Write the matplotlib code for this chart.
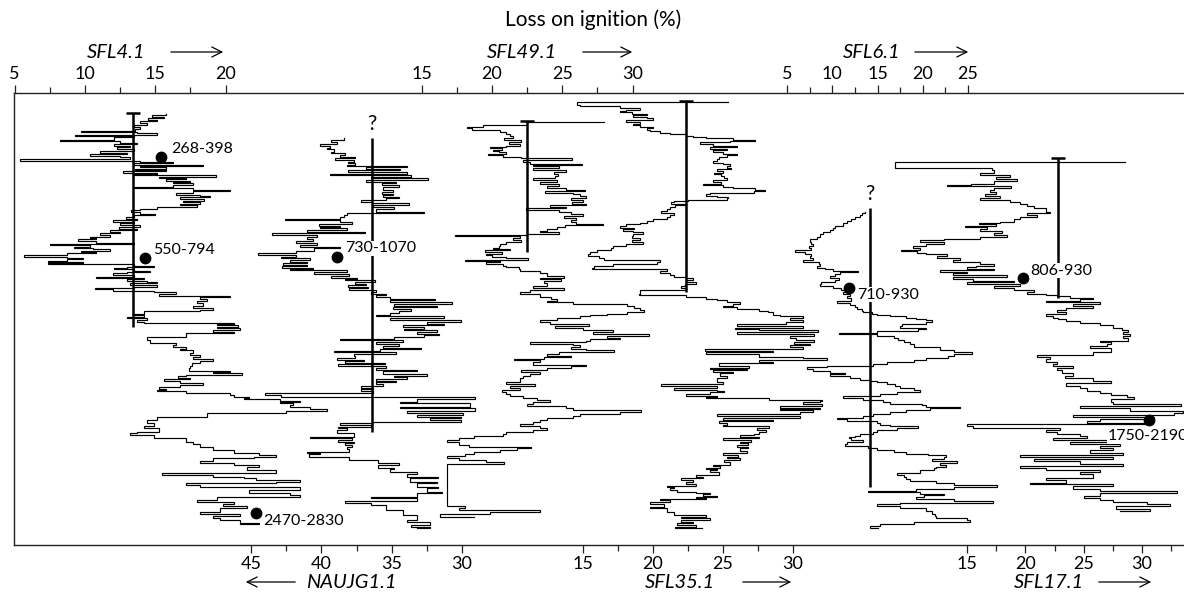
import matplotlib
matplotlib.use("Agg")
import matplotlib.pyplot as plt
from matplotlib.patches import FancyArrowPatch

plt.rcParams["font.family"] = ["Lato", "DejaVu Sans"]

# ---------------------------------------------------------------- data
# Loss-on-ignition profiles: depth (cm below top of section) and LOI (%)
SFL4_depth = [
    24.0, 25.0, 26.7, 28.0, 30.0, 31.3, 33.3, 34.7, 37.3, 39.3,
    40.7, 42.0, 43.3, 44.7, 46.0, 47.3, 50.0, 51.3, 52.7, 54.0,
    56.0, 57.3, 59.3, 60.7, 62.7, 64.0, 66.0, 67.3, 69.3, 70.7,
    72.0, 73.3, 74.7, 76.0, 77.3, 78.7, 80.0, 81.3, 82.7, 84.0,
    85.0, 86.7, 88.0, 89.3, 90.7, 92.0, 93.3, 94.7, 96.7, 98.0,
    100.0, 101.3, 103.3, 104.7, 106.0, 107.3, 108.7, 110.7, 112.0, 114.0,
    115.3, 117.3, 118.7, 120.0, 122.0, 124.0, 125.3, 126.7, 128.7, 130.0,
    132.0, 133.3, 134.7, 136.7, 138.7, 140.0, 142.0, 143.3, 145.3, 146.7,
    148.0, 149.3, 151.3, 152.7, 154.0, 155.3, 156.7, 158.0, 159.3, 160.7,
    161.7, 163.3, 165.0, 166.7, 168.3, 169.3, 170.7, 172.0, 173.3, 174.3,
    175.7, 177.0, 178.3, 179.3, 180.7, 182.0, 183.3, 184.7, 186.7, 188.0,
    189.3, 190.7, 192.0, 193.3, 195.0, 196.7, 198.0, 199.3, 200.7, 202.0,
    204.0, 206.0, 207.3, 209.3, 211.3, 213.3, 216.0, 218.3, 220.0, 221.3,
    224.0, 225.3, 226.7, 228.0, 230.0, 231.7, 232.7, 234.0, 235.3, 236.7,
    238.3, 240.0, 241.7, 243.3, 246.7, 250.0, 252.7, 254.7, 256.7, 258.7,
    260.0, 262.7, 265.0, 267.3, 269.3, 271.3, 273.3, 276.0, 278.3, 280.7,
    282.0, 283.3, 284.7, 286.0, 288.0, 289.3, 291.3, 293.3, 295.3, 297.3,
    298.7, 300.0, 301.3, 302.7, 304.7, 306.7, 308.0, 309.3, 310.7, 312.0,
    313.3, 315.3, 317.3, 319.3, 320.7, 322.7, 326.7, 330.0, 333.3, 336.0,
    338.3, 341.7, 343.3, 345.0, 348.3, 351.7, 354.0, 356.7, 360.0, 363.3,
    365.0, 366.7, 368.3, 370.7, 373.3, 375.0, 376.7, 380.0, 382.7, 384.7,
    386.7, 388.3, 390.0, 391.7, 393.3, 395.3, 397.3, 400.0, 402.7, 405.0,
    406.7, 410.0, 411.7, 414.0, 416.0, 418.3, 421.7, 424.0, 426.0, 428.3,
    430.0, 432.7, 434.0,
]
SFL4_loi = [
    15.8, 14.8, 15.6, 14.5, 15.1, 13.9, 14.4, 13.5, 13.9, 13.6,
    9.7, 13.7, 15.1, 9.3, 13.5, 12.1, 8.2, 12.5, 13.7, 12.1,
    13.2, 12.3, 13.5, 11.1, 13.0, 10.4, 12.5, 13.2, 5.4, 13.9,
    16.3, 13.5, 18.4, 13.9, 15.8, 13.6, 15.8, 12.7, 15.1, 13.5,
    19.3, 15.3, 17.2, 15.8, 17.5, 16.3, 17.7, 16.3, 13.5, 17.7,
    20.3, 17.7, 16.5, 18.2, 18.9, 16.8, 18.5, 17.0, 18.2, 16.8,
    18.0, 15.1, 13.9, 13.3, 13.9, 15.0, 13.5, 12.9, 13.7, 12.0,
    13.5, 12.5, 13.9, 12.4, 13.7, 11.8, 12.5, 11.1, 11.8, 10.4,
    10.8, 9.5, 10.8, 13.5, 7.5, 10.4, 9.2, 10.6, 11.8, 9.7,
    10.8, 8.7, 5.7, 8.7, 9.9, 8.7, 7.4, 9.9, 7.4, 13.5,
    14.9, 13.0, 12.1, 13.5, 14.6, 13.0, 12.0, 13.5, 10.8, 14.2,
    13.0, 14.4, 15.1, 13.2, 15.1, 13.5, 10.7, 12.0, 14.9, 16.5,
    15.3, 20.3, 18.2, 18.7, 18.0, 18.4, 17.7, 19.1, 18.2, 14.2,
    13.5, 14.2, 13.0, 14.4, 13.7, 14.2, 20.6, 19.4, 20.9, 19.4,
    21.0, 19.1, 20.6, 17.2, 14.4, 14.6, 16.5, 16.3, 17.2, 16.8,
    17.7, 17.5, 18.2, 17.7, 19.1, 18.2, 17.6, 17.5, 17.4, 20.3,
    19.1, 21.2, 17.2, 16.6, 17.5, 15.6, 16.8, 18.4, 16.8, 15.3,
    15.8, 15.1, 17.2, 20.3, 20.6, 21.7, 21.3, 23.9, 25.3, 23.9,
    24.8, 24.6, 26.0, 27.2, 24.3, 18.7, 15.1, 14.4, 14.9, 14.2,
    15.3, 13.7, 13.2, 14.9, 17.2, 17.7, 18.2, 19.1, 20.6, 22.4,
    23.6, 22.0, 19.1, 18.2, 20.6, 22.4, 21.5, 23.6, 15.5, 19.1,
    21.3, 22.2, 25.3, 23.6, 17.2, 18.2, 25.3, 21.7, 24.6, 25.3,
    19.4, 18.0, 20.6, 19.8, 21.5, 19.6, 18.2, 21.0, 19.1, 19.6,
    21.0, 22.4, 21.0,
]

NAUJG_depth = [
    48.3, 49.7, 51.7, 53.7, 55.7, 57.7, 59.0, 61.7, 63.3, 65.0,
    67.0, 68.3, 70.3, 71.7, 73.3, 75.0, 75.7, 77.0, 79.0, 80.3,
    82.3, 83.7, 85.0, 86.7, 88.3, 90.0, 91.7, 93.3, 95.0, 97.0,
    100.0, 101.7, 103.7, 105.0, 106.7, 108.3, 110.0, 111.7, 113.3, 115.0,
    116.7, 119.0, 121.7, 123.3, 125.0, 127.0, 129.0, 130.3, 132.3, 133.7,
    135.7, 137.0, 138.3, 139.7, 141.7, 143.0, 145.0, 146.7, 149.0, 151.0,
    153.3, 155.0, 156.7, 158.3, 161.0, 163.3, 165.0, 166.7, 168.3, 169.7,
    171.7, 173.0, 175.0, 176.3, 177.7, 179.0, 180.0, 181.7, 184.3, 185.7,
    187.7, 189.0, 190.0, 191.7, 193.7, 195.0, 197.0, 198.3, 200.3, 201.7,
    203.7, 205.0, 207.0, 209.0, 210.3, 212.3, 213.7, 215.7, 217.0, 219.0,
    221.0, 223.0, 225.0, 226.3, 227.7, 230.3, 231.7, 233.7, 235.0, 237.0,
    239.0, 240.3, 241.7, 243.7, 245.0, 247.0, 249.0, 250.3, 252.3, 253.7,
    255.7, 257.7, 259.0, 261.0, 262.3, 264.3, 266.3, 267.7, 269.7, 271.0,
    273.0, 274.3, 276.3, 277.7, 279.7, 281.0, 283.7, 285.7, 287.0, 289.0,
    291.0, 292.3, 294.3, 295.7, 297.7, 299.0, 301.0, 302.7, 305.0, 307.0,
    309.0, 311.7, 313.3, 316.7, 318.3, 321.0, 323.3, 325.0, 326.7, 328.3,
    330.0, 331.7, 333.3, 335.0, 336.7, 338.3, 340.0, 343.3, 346.7, 348.3,
    350.0, 351.7, 353.3, 355.0, 356.7, 359.0, 361.7, 363.3, 364.3, 366.7,
    370.0, 373.3, 375.0, 377.7, 379.0, 381.7, 384.3, 386.7, 388.3, 391.7,
    393.3, 396.7, 398.3, 401.7, 403.3, 406.7, 408.3, 411.0, 413.3, 415.0,
    420.0, 425.0, 430.0, 432.3, 435.0, 437.0, 438.3,
]
NAUJG_loi = [
    38.4, 39.3, 38.9, 40.1, 39.4, 39.6, 39.1, 39.3, 38.3, 38.7,
    37.6, 39.0, 37.7, 38.1, 37.6, 38.2, 33.9, 36.8, 34.4, 38.1,
    33.9, 39.4, 33.6, 36.5, 32.4, 36.8, 34.7, 35.7, 34.5, 35.6,
    34.9, 35.7, 34.9, 35.6, 34.5, 35.4, 37.2, 36.4, 33.8, 36.3,
    34.8, 36.1, 32.7, 38.2, 38.4, 38.7, 42.6, 38.7, 37.8, 40.2,
    38.7, 40.1, 38.2, 41.0, 36.9, 43.5, 40.3, 41.0, 40.6, 41.8,
    40.3, 41.5, 38.7, 40.5, 41.8, 44.5, 41.8, 42.9, 40.8, 42.2,
    41.0, 42.7, 41.0, 42.8, 40.6, 42.2, 38.2, 40.5, 38.0, 39.3,
    37.5, 38.3, 36.2, 37.6, 36.8, 38.1, 36.7, 38.0, 36.1, 36.5,
    35.4, 36.1, 35.1, 31.9, 35.1, 30.7, 34.8, 31.8, 34.9, 33.6,
    34.5, 35.1, 36.1, 31.3, 35.1, 30.1, 32.5, 31.3, 34.2, 32.7,
    34.1, 31.8, 33.2, 31.6, 32.7, 34.8, 38.7, 34.2, 36.1, 34.5,
    35.6, 32.9, 35.8, 39.1, 34.7, 37.7, 37.6, 38.9, 37.0, 38.3,
    35.5, 38.8, 35.4, 36.1, 33.2, 35.6, 32.5, 34.8, 33.9, 36.1,
    34.7, 36.1, 35.6, 37.2, 36.3, 37.2, 36.3, 44.0, 42.9, 29.1,
    33.2, 34.4, 29.4, 34.4, 29.1, 33.9, 29.9, 33.2, 30.1, 32.3,
    30.1, 36.3, 38.7, 36.5, 38.8, 38.2, 38.9, 37.7, 40.8, 37.8,
    38.8, 37.7, 38.3, 37.8, 38.2, 38.0, 41.0, 40.1, 40.9, 38.0,
    36.0, 34.5, 36.0, 34.8, 35.1, 33.2, 33.9, 31.7, 33.7, 31.8,
    33.2, 31.7, 32.5, 31.4, 33.2, 36.5, 33.2, 38.3, 36.5, 35.4,
    34.2, 33.2, 33.9, 32.3, 33.6, 32.3, 33.2,
]

SFL49_depth = [
    32.3, 32.3, 35.0, 37.0, 38.3, 39.7, 42.3, 44.3, 46.3, 47.7,
    49.7, 51.7, 53.7, 55.7, 57.0, 58.3, 59.7, 61.0, 62.3, 63.7,
    65.0, 67.0, 68.3, 70.3, 71.7, 73.7, 75.0, 76.3, 78.3, 80.3,
    82.3, 84.3, 86.3, 88.3, 90.3, 92.3, 94.3, 95.7, 97.7, 99.7,
    101.0, 103.0, 104.3, 106.3, 107.7, 109.7, 111.7, 113.7, 115.0, 117.0,
    118.3, 120.0, 121.7, 123.7, 125.7, 127.7, 130.0, 131.7, 133.7, 135.0,
    137.0, 139.0, 141.0, 142.3, 143.7, 145.0, 146.3, 148.3, 150.3, 151.7,
    153.7, 155.7, 157.7, 159.0, 160.3, 161.7, 163.7, 165.0, 167.0, 168.3,
    169.7, 171.0, 172.3, 173.7, 175.7, 177.0, 179.0, 181.0, 183.3, 185.7,
    187.7, 189.3, 191.0, 193.3, 195.7, 197.7, 199.7, 201.7, 204.3, 207.0,
    209.0, 211.0, 212.3, 213.7, 215.7, 217.7, 219.7, 221.7, 223.7, 225.0,
    226.3, 228.3, 230.3, 231.7, 233.7, 235.7, 237.7, 239.7, 242.3, 243.7,
    245.7, 247.7, 249.0, 251.0, 252.3, 253.7, 255.0, 257.0, 259.0, 260.3,
    262.3, 263.7, 265.7, 267.0, 269.0, 270.3, 272.3, 275.0, 276.3, 278.3,
    280.3, 282.3, 283.7, 285.7, 287.7, 289.7, 291.7, 293.7, 295.7, 297.7,
    299.7, 301.7, 303.7, 305.7, 307.7, 309.7, 311.7, 313.7, 315.7, 317.7,
    319.7, 321.7, 323.7, 325.7, 327.7, 330.0, 332.3, 334.3, 336.3, 338.3,
    340.3, 342.3, 344.3, 346.3, 348.3, 350.3, 352.3, 355.0, 357.0, 358.3,
    360.3, 362.3, 364.3, 366.3, 368.3, 370.3, 372.3, 374.0, 413.3, 415.7,
    417.7, 420.0, 422.3, 424.3, 426.7,
]
SFL49_loi = [
    28.0, 22.5, 19.4, 18.2, 18.6, 20.6, 21.0, 21.3, 21.5, 20.9,
    22.1, 21.2, 22.0, 21.0, 19.9, 20.7, 20.1, 20.5, 21.0, 19.7,
    20.8, 22.1, 25.7, 22.2, 22.7, 26.4, 22.9, 24.8, 22.9, 25.3,
    24.4, 24.7, 24.5, 22.9, 24.6, 23.4, 24.8, 23.9, 25.3, 26.6,
    23.8, 25.8, 26.3, 26.7, 25.6, 26.5, 25.7, 26.7, 24.1, 25.3,
    22.4, 24.8, 25.6, 26.5, 25.1, 26.0, 25.6, 26.0, 27.9, 25.2,
    24.6, 23.9, 23.4, 24.8, 22.5, 17.4, 22.0, 21.5, 22.1, 21.0,
    20.6, 20.5, 20.1, 21.3, 19.5, 20.7, 19.6, 20.0, 21.0, 22.6,
    18.1, 20.6, 19.6, 20.8, 21.0, 21.9, 22.0, 23.4, 23.9, 25.1,
    23.4, 24.9, 23.7, 23.9, 22.9, 25.1, 22.7, 22.0, 23.4, 24.2,
    24.6, 23.9, 25.8, 29.6, 30.1, 30.5, 30.8, 29.6, 28.2, 27.0,
    26.3, 24.6, 23.4, 24.1, 26.9, 24.5, 26.5, 28.6, 27.2, 31.2,
    28.2, 29.1, 27.0, 26.7, 22.7, 25.8, 26.3, 25.6, 26.7, 28.7,
    24.8, 23.9, 25.6, 23.7, 21.6, 23.4, 22.9, 26.7, 25.6, 23.9,
    22.1, 23.4, 22.7, 22.2, 22.0, 22.0, 21.0, 23.1, 21.3, 22.0,
    20.7, 21.0, 21.3, 22.2, 23.2, 24.1, 22.9, 22.5, 25.3, 25.8,
    30.6, 29.1, 26.3, 25.8, 23.9, 23.4, 22.9, 22.0, 23.4, 23.9,
    22.9, 21.0, 20.8, 18.7, 17.7, 16.8, 17.7, 18.4, 22.8, 21.8,
    20.6, 18.7, 18.1, 16.8, 17.7, 19.6, 20.9, 16.8, 16.8, 18.1,
    17.7, 23.4, 19.9, 16.3, 18.7,
]

SFL35_depth = [
    12.3, 12.3, 15.0, 16.3, 18.3, 19.7, 21.0, 22.3, 23.7, 25.0,
    27.0, 28.3, 29.7, 31.7, 33.7, 35.0, 37.0, 38.3, 39.7, 41.0,
    43.0, 44.3, 45.7, 47.0, 48.3, 49.7, 51.0, 52.3, 54.3, 55.7,
    57.0, 59.0, 60.3, 61.7, 63.7, 65.0, 67.0, 69.0, 71.0, 73.0,
    74.3, 76.3, 77.7, 79.0, 81.0, 83.0, 84.3, 86.3, 88.3, 90.3,
    92.3, 93.7, 95.0, 97.0, 98.3, 99.7, 101.0, 103.0, 104.3, 105.7,
    107.0, 108.3, 109.7, 111.0, 112.3, 113.7, 115.0, 117.0, 119.0, 121.0,
    123.0, 125.0, 127.0, 129.0, 131.0, 133.0, 134.3, 136.3, 137.7, 139.0,
    141.0, 142.3, 144.3, 146.3, 148.3, 150.3, 151.7, 153.7, 155.7, 157.7,
    159.7, 161.7, 163.7, 165.7, 167.7, 169.7, 171.7, 173.7, 175.7, 177.7,
    179.0, 181.0, 183.0, 185.0, 187.0, 188.3, 189.7, 191.7, 193.7, 195.7,
    197.7, 199.7, 203.7, 205.0, 207.0, 209.0, 210.3, 212.3, 213.7, 215.7,
    217.0, 219.0, 221.0, 222.3, 225.0, 226.3, 227.7, 229.7, 231.7, 234.3,
    236.3, 237.7, 239.0, 240.3, 241.7, 243.7, 245.7, 247.7, 249.7, 251.7,
    253.7, 255.0, 257.0, 259.0, 261.0, 262.3, 264.3, 266.7, 268.3, 270.0,
    271.7, 273.3, 275.7, 277.7, 279.0, 280.0, 281.7, 283.3, 285.7, 288.3,
    291.7, 294.3, 295.7, 297.7, 299.7, 301.0, 302.3, 304.3, 305.7, 306.7,
    308.3, 309.7, 311.0, 312.3, 314.3, 315.7, 317.7, 319.0, 320.3, 322.3,
    324.3, 325.7, 327.7, 329.7, 331.0, 333.0, 335.0, 336.3, 337.7, 339.7,
    341.7, 343.7, 345.0, 346.7, 348.3, 350.0, 351.7, 353.3, 355.0, 356.7,
    358.3, 361.0, 363.3, 365.0, 366.7, 368.3, 370.0, 372.3, 375.0, 376.3,
    377.7, 379.0, 380.0, 382.3, 385.0, 386.7, 388.3, 390.0, 391.7, 393.7,
    395.7, 396.7, 397.7, 399.7, 401.7, 403.0, 404.3, 405.7, 406.7, 407.7,
    409.0, 410.3, 412.3, 414.3, 416.7, 418.3, 421.7, 425.0, 426.7, 428.3,
    430.3, 431.7, 433.3, 435.0, 436.7, 438.3,
]
SFL35_loi = [
    25.4, 14.6, 14.8, 17.7, 19.1, 18.1, 17.7, 18.5, 19.6, 18.6,
    19.6, 20.0, 18.1, 19.1, 18.6, 19.1, 20.0, 19.6, 19.8, 20.5,
    21.2, 22.4, 22.9, 23.8, 25.7, 27.3, 25.5, 23.4, 24.3, 26.0,
    24.1, 25.3, 24.3, 25.0, 26.0, 25.3, 24.7, 24.6, 24.3, 25.0,
    25.5, 25.3, 25.6, 24.6, 25.0, 24.4, 24.9, 25.1, 25.3, 24.3,
    24.9, 23.6, 25.0, 25.7, 27.3, 28.0, 27.2, 24.1, 23.8, 24.6,
    25.4, 25.3, 22.5, 21.5, 21.3, 22.4, 21.6, 21.2, 21.0, 20.6,
    21.5, 21.2, 21.0, 20.0, 19.6, 19.1, 18.1, 17.7, 18.7, 17.9,
    18.6, 19.3, 18.6, 18.5, 19.1, 18.5, 19.3, 18.1, 17.2, 17.0,
    16.0, 15.5, 15.4, 16.2, 16.5, 20.5, 20.3, 17.2, 15.8, 15.7,
    21.0, 20.5, 21.2, 21.5, 22.4, 22.9, 22.4, 23.1, 22.3, 22.0,
    22.3, 19.1, 19.0, 22.4, 23.8, 24.6, 25.3, 26.2, 25.7, 25.0,
    26.0, 27.6, 28.2, 28.6, 29.1, 30.7, 29.8, 30.7, 29.5, 26.0,
    30.7, 25.9, 27.6, 31.8, 26.0, 31.5, 29.8, 30.2, 31.5, 30.1,
    31.2, 29.8, 30.7, 23.7, 28.6, 23.8, 27.6, 30.7, 32.4, 27.6,
    28.6, 24.7, 26.9, 24.1, 26.7, 24.3, 25.7, 24.8, 25.3, 24.6,
    25.0, 20.6, 24.6, 21.5, 24.6, 25.1, 24.1, 22.4, 24.6, 23.8,
    28.3, 32.1, 31.9, 30.7, 32.1, 29.1, 31.9, 29.1, 31.4, 30.5,
    24.6, 30.5, 25.0, 28.6, 24.7, 25.3, 25.0, 28.3, 27.4, 28.1,
    27.6, 27.2, 26.2, 27.6, 25.0, 27.0, 26.2, 26.8, 26.0, 26.8,
    26.2, 26.7, 25.0, 26.1, 25.3, 26.2, 25.1, 25.5, 24.3, 24.8,
    23.8, 24.6, 24.1, 24.7, 23.1, 23.6, 22.0, 22.9, 22.4, 23.1,
    21.0, 21.5, 21.2, 21.7, 23.1, 24.1, 23.6, 24.6, 23.1, 23.8,
    20.5, 21.2, 19.8, 20.8, 19.8, 21.0, 21.5, 23.8, 22.0, 24.1,
    22.0, 22.9, 21.7, 23.1, 21.6, 23.5,
]

SFL6_depth = [
    121.7, 123.3, 125.0, 126.7, 129.0, 131.0, 133.3, 135.7, 137.7, 139.7,
    142.3, 144.3, 146.7, 149.0, 151.7, 153.7, 155.7, 158.3, 160.3, 161.7,
    163.7, 165.7, 168.3, 170.3, 171.7, 173.7, 175.7, 177.7, 179.0, 181.0,
    182.3, 184.3, 186.3, 188.3, 190.3, 192.3, 194.3, 196.3, 198.3, 200.3,
    202.3, 204.3, 206.3, 208.3, 211.0, 213.0, 215.0, 217.0, 219.0, 221.0,
    222.3, 223.7, 225.0, 226.3, 227.7, 229.0, 230.3, 231.7, 233.7, 235.7,
    237.7, 239.0, 241.0, 243.0, 244.3, 246.3, 248.3, 250.3, 252.3, 254.3,
    257.0, 259.7, 261.7, 263.7, 265.7, 267.7, 269.7, 271.7, 273.7, 275.7,
    277.0, 279.0, 281.0, 283.0, 284.3, 285.7, 287.7, 289.7, 291.0, 292.3,
    294.3, 296.3, 298.3, 300.3, 302.3, 304.3, 306.3, 307.7, 309.7, 311.7,
    313.7, 315.0, 317.0, 318.3, 320.3, 322.3, 324.3, 326.3, 327.7, 329.0,
    331.0, 333.0, 335.0, 336.3, 337.7, 339.7, 341.7, 343.7, 345.7, 347.0,
    348.3, 350.3, 352.3, 354.3, 355.7, 357.7, 359.7, 361.7, 363.7, 365.0,
    367.0, 369.0, 371.0, 373.0, 375.0, 377.0, 378.3, 380.3, 383.0, 385.0,
    387.0, 389.0, 391.0, 393.0, 395.0, 397.0, 399.0, 401.0, 402.3, 403.7,
    405.0, 407.0, 409.0, 411.0, 413.0, 414.3, 416.3, 418.3, 421.0, 423.7,
    425.7, 427.7, 429.7, 431.7, 434.3, 436.3, 438.3,
]
SFL6_loi = [
    13.6, 13.3, 13.1, 12.5, 12.1, 11.6, 11.2, 10.3, 10.1, 9.8,
    9.0, 8.6, 8.3, 7.5, 7.7, 7.9, 7.4, 7.7, 5.9, 7.0,
    7.7, 7.5, 7.9, 6.8, 8.5, 8.6, 8.3, 9.2, 10.1, 12.9,
    10.9, 10.3, 9.8, 10.7, 10.3, 8.8, 8.6, 10.1, 11.0, 11.6,
    11.2, 12.0, 11.6, 12.1, 10.5, 12.0, 12.5, 12.7, 13.3, 13.4,
    14.4, 14.9, 16.4, 18.2, 19.3, 20.4, 21.0, 20.4, 17.7, 17.5,
    20.4, 19.5, 14.9, 10.7, 14.9, 16.8, 17.3, 17.9, 18.6, 19.0,
    21.9, 23.4, 25.4, 23.4, 22.8, 20.4, 19.0, 16.0, 14.5, 9.4,
    7.2, 7.9, 9.8, 11.4, 9.8, 12.0, 13.1, 14.2, 14.9, 16.0,
    16.9, 17.5, 19.0, 19.7, 17.1, 15.3, 11.2, 13.4, 15.6, 16.4,
    19.9, 20.4, 24.1, 20.8, 18.2, 16.4, 14.5, 13.4, 10.5, 11.6,
    14.9, 15.3, 16.4, 19.5, 17.1, 14.9, 14.5, 13.1, 12.5, 11.8,
    12.1, 13.4, 11.6, 11.4, 14.0, 14.9, 16.8, 18.2, 20.6, 22.6,
    22.3, 21.0, 23.8, 21.9, 22.6, 21.5, 21.2, 19.7, 17.1, 17.9,
    18.2, 18.6, 21.5, 23.4, 28.2, 23.4, 19.3, 14.0, 19.7, 22.3,
    20.1, 19.3, 23.4, 27.8, 17.5, 14.9, 17.5, 20.4, 21.0, 21.4,
    21.5, 24.9, 25.2, 19.0, 15.3, 14.2, 15.1,
]

SFL17_depth = [
    71.7, 71.7, 77.7, 80.3, 83.0, 85.0, 87.0, 89.0, 91.0, 93.7,
    95.0, 96.3, 98.3, 100.3, 102.3, 104.3, 106.3, 108.3, 110.3, 112.3,
    114.3, 116.3, 118.3, 121.7, 123.3, 125.0, 127.0, 129.0, 131.7, 133.0,
    134.3, 135.7, 137.0, 139.0, 141.0, 143.0, 145.0, 147.0, 149.0, 150.3,
    151.7, 153.7, 155.7, 157.7, 159.7, 161.0, 163.0, 164.3, 166.3, 168.3,
    170.3, 172.3, 174.3, 175.7, 177.0, 179.0, 180.3, 181.7, 183.0, 185.0,
    187.0, 189.0, 191.0, 192.3, 193.7, 195.7, 197.7, 199.7, 201.7, 203.7,
    205.0, 206.3, 207.7, 209.0, 211.0, 212.3, 214.3, 216.3, 218.3, 220.3,
    222.3, 223.7, 225.7, 227.7, 229.0, 231.0, 233.0, 235.0, 238.3, 240.3,
    242.3, 244.3, 246.3, 248.3, 251.0, 252.3, 254.3, 256.3, 258.3, 261.7,
    265.0, 267.0, 269.0, 271.7, 273.7, 275.7, 278.3, 280.3, 283.0, 285.7,
    288.3, 291.0, 293.0, 295.7, 298.3, 301.0, 303.0, 305.0, 307.0, 309.0,
    311.7, 314.3, 316.3, 318.3, 321.0, 323.0, 325.0, 327.0, 329.0, 331.0,
    333.0, 334.3, 336.3, 338.3, 340.3, 342.3, 344.3, 346.3, 347.7, 349.7,
    351.7, 353.7, 355.7, 358.3, 360.3, 363.0, 365.0, 367.0, 369.0, 371.0,
    373.7, 375.7, 377.7, 380.3, 382.3, 384.3, 387.7, 390.3, 393.0, 394.3,
    396.3, 399.0, 401.0, 403.0, 405.7, 408.3, 410.3, 412.3, 414.3, 416.3,
    419.0, 421.0,
]
SFL17_loi = [
    28.5, 8.8, 17.1, 17.3, 16.1, 18.7, 17.5, 19.3, 17.3, 15.3,
    13.3, 18.8, 17.3, 17.0, 17.5, 16.5, 17.8, 16.1, 18.7, 19.5,
    20.1, 20.7, 21.8, 22.1, 20.1, 21.0, 19.5, 19.0, 17.8, 16.0,
    17.5, 14.8, 16.7, 16.1, 18.0, 17.3, 18.4, 16.1, 13.0, 11.0,
    13.0, 11.5, 10.4, 11.0, 9.3, 10.7, 11.5, 13.3, 12.4, 14.4,
    13.8, 16.1, 17.3, 15.8, 15.0, 17.3, 12.7, 15.0, 13.8, 18.4,
    13.8, 15.5, 19.0, 15.0, 19.5, 17.3, 19.0, 20.7, 20.1, 21.8,
    22.7, 23.8, 25.8, 24.7, 21.8, 26.4, 24.1, 25.8, 23.5, 22.7,
    23.5, 21.8, 22.4, 22.8, 23.5, 24.7, 26.4, 27.5, 28.3, 28.8,
    28.4, 29.0, 28.4, 28.8, 26.4, 27.3, 27.0, 25.5, 27.3, 25.8,
    21.0, 22.1, 21.8, 22.7, 22.4, 24.1, 22.7, 23.1, 24.1, 23.4,
    25.8, 27.3, 23.5, 24.7, 25.3, 26.4, 27.3, 28.7, 29.3, 27.3,
    27.5, 33.3, 24.7, 29.0, 33.5, 32.7, 24.1, 31.0, 26.4, 25.3,
    30.4, 15.0, 15.5, 23.0, 21.8, 22.7, 24.7, 25.3, 22.4, 28.1,
    23.8, 28.1, 26.4, 27.5, 25.5, 28.4, 19.5, 27.5, 20.7, 24.7,
    28.4, 19.5, 21.8, 26.4, 24.7, 25.8, 21.8, 23.5, 20.4, 27.5,
    24.1, 26.4, 33.0, 26.4, 25.0, 26.4, 27.5, 30.4, 32.4, 27.8,
    30.7, 28.1,
]

# Reference lines: LOI value and depth interval (top, bottom)
MEAN_LOI = {"SFL4.1": 13.4, "NAUJG1.1": 36.4, "SFL49.1": 22.5,
            "SFL35.1": 22.4, "SFL6.1": 14.2, "SFL17.1": 22.8}
MEAN_SPAN = {"SFL4.1": (22.7, 236.7), "NAUJG1.1": (48.3, 341.7),
             "SFL49.1": (31.0, 161.7), "SFL35.1": (11.0, 201.7),
             "SFL6.1": (118.3, 396.7), "SFL17.1": (67.7, 207.7)}
UNCERTAIN = ["NAUJG1.1", "SFL6.1"]

# Radiocarbon-dated levels: core, LOI, depth, age label
DATE_CORE = ["SFL4.1", "SFL4.1", "SFL4.1", "NAUJG1.1", "SFL6.1", "SFL17.1", "SFL17.1"]
DATE_LOI = [15.4, 14.3, 22.2, 38.9, 11.8, 19.8, 30.6]
DATE_DEPTH = [67.3, 168.0, 423.3, 167.3, 197.7, 187.7, 330.0]
DATE_LABEL = ["268-398", "550-794", "2470-2830", "730-1070", "710-930", "806-930", "1750-2190"]

# Axis ticks per core
TICKS_MAJOR = {"SFL4.1": [5, 10, 15, 20], "SFL49.1": [15, 20, 25, 30],
               "SFL6.1": [5, 10, 15, 20, 25], "NAUJG1.1": [45, 40, 35, 30],
               "SFL35.1": [15, 20, 25, 30], "SFL17.1": [15, 20, 25, 30]}
TICKS_MINOR = {"SFL4.1": [7.5, 12.5, 17.5], "SFL49.1": [17.5, 22.5, 27.5],
               "SFL6.1": [7.5, 12.5, 17.5, 22.5], "NAUJG1.1": [42.5, 37.5, 32.5],
               "SFL35.1": [17.5, 22.5, 27.5], "SFL17.1": [17.5, 22.5, 27.5, 32.5]}

# ---------------------------------------------------------------- layout
W, H = 1184, 596
X0, X1 = 14, 1192          # horizontal extent of the plotting frame (px)
Y0, Y1 = 93, 545           # vertical extent of the plotting frame (px)
DEPTH_TOP, DEPTH_BOTTOM = 3, 455

# Each core gets its own horizontal scale: two (value, pixel) anchors
SCALE_ANCHORS = {
    "SFL4.1": (5, 14.5, 20, 225.5),
    "NAUJG1.1": (45, 251.0, 30, 462.0),
    "SFL49.1": (15, 421.5, 30, 632.5),
    "SFL35.1": (15, 582.5, 30, 793.0),
    "SFL6.1": (5, 787.0, 25, 968.0),
    "SFL17.1": (15, 967.0, 30, 1142.0),
}
TICK_SIDE = {"SFL4.1": "top", "SFL49.1": "top", "SFL6.1": "top",
             "NAUJG1.1": "bottom", "SFL35.1": "bottom", "SFL17.1": "bottom"}

# label offsets (px) of date labels relative to their dot
LABEL_OFFSET = [(10, 8), (8, 8), (7, -8), (8, 9), (9, -7), (7, 7), (-41, -16)]

fig = plt.figure(figsize=(W / 100, H / 100), dpi=100)
rect = [X0 / W, 1 - Y1 / H, (X1 - X0) / W, (Y1 - Y0) / H]

frame = fig.add_axes(rect, label="frame")
frame.set_xticks([])
frame.set_yticks([])
frame.spines["right"].set_visible(False)
for s in ("left", "top", "bottom"):
    frame.spines[s].set_linewidth(1.0)
    frame.spines[s].set_color("#222222")


def xlim_from_anchors(v1, p1, v2, p2):
    b = (p2 - p1) / (v2 - v1)
    a = p1 - b * v1
    return (X0 - a) / b, (X1 - a) / b


series = {
    "SFL4.1": (SFL4_depth, SFL4_loi),
    "NAUJG1.1": (NAUJG_depth, NAUJG_loi),
    "SFL49.1": (SFL49_depth, SFL49_loi),
    "SFL35.1": (SFL35_depth, SFL35_loi),
    "SFL6.1": (SFL6_depth, SFL6_loi),
    "SFL17.1": (SFL17_depth, SFL17_loi),
}

axes = {}
for z, (core, (depth, loi)) in enumerate(series.items()):
    ax = fig.add_axes(rect, label=core, zorder=1 + z)
    ax.patch.set_visible(False)
    for s in ax.spines.values():
        s.set_visible(False)
    ax.set_xlim(*xlim_from_anchors(*SCALE_ANCHORS[core]))
    ax.set_ylim(DEPTH_BOTTOM, DEPTH_TOP)
    ax.set_yticks([])
    ax.set_xticks(TICKS_MAJOR[core])
    ax.set_xticks(TICKS_MINOR[core], minor=True)
    ax.set_xticklabels([f"{t:g}" for t in TICKS_MAJOR[core]])
    if TICK_SIDE[core] == "top":
        ax.xaxis.tick_top()
    else:
        ax.xaxis.tick_bottom()
    ax.tick_params(axis="x", which="major", length=6, width=0.9,
                   pad=2, labelsize=13, direction="out", color="#222222")
    ax.tick_params(axis="x", which="minor", length=4, width=0.9,
                   direction="out", color="#222222")

    ax.plot(loi, depth, drawstyle="steps-pre", color="black", lw=0.85,
            solid_joinstyle="miter", clip_on=False)

    m = MEAN_LOI[core]
    top, bottom = MEAN_SPAN[core]
    ax.plot([m, m], [top, bottom], color="black", lw=1.8, solid_capstyle="butt")
    if core in UNCERTAIN:
        ax.text(m, top - 14, "?", ha="center", va="center", fontsize=15)
    else:
        ax.plot([m], [top], marker="_", ms=10, mew=1.8, color="black")
    axes[core] = ax

for core, v, d, lab, (ox, oy) in zip(DATE_CORE, DATE_LOI, DATE_DEPTH,
                                     DATE_LABEL, LABEL_OFFSET):
    ax = axes[core]
    ax.plot([v], [d], "o", color="black", ms=7.5, zorder=5)
    ax.annotate(lab, xy=(v, d), xytext=(ox, oy), textcoords="offset pixels",
                ha="left", va="center", fontsize=11.5, zorder=6,
                bbox=dict(boxstyle="square,pad=0.05", fc="white", ec="none"),
                annotation_clip=False)

# ---------------------------------------------------------------- titles
def fig_text(x, y, s, **kw):
    fig.text(x / W, 1 - y / H, s, **kw)


def arrow(x_from, x_to, y):
    fig.add_artist(FancyArrowPatch((x_from / W, 1 - y / H), (x_to / W, 1 - y / H),
                                   transform=fig.transFigure,
                                   arrowstyle="->,head_length=0.6,head_width=0.3",
                                   mutation_scale=12, lw=0.9, color="black"))


fig_text(593, 20, "Loss on ignition (%)", ha="center", va="center", fontsize=15)

NAME_POS = {"SFL4.1": (87, 52, 168, 226), "SFL49.1": (487, 52, 580, 635),
            "SFL6.1": (843, 52, 912, 971), "SFL35.1": (645, 582, 740, 794),
            "SFL17.1": (1014, 582, 1096, 1154)}
for name, (tx, ty, a0, a1) in NAME_POS.items():
    fig_text(tx, ty, name, ha="left", va="center", fontsize=14.5, style="italic")
    arrow(a0, a1, ty)

fig_text(306, 582, "NAUJG1.1", ha="left", va="center", fontsize=14.5, style="italic")
arrow(298, 243, 582)

fig.savefig("out.png", dpi=100)
